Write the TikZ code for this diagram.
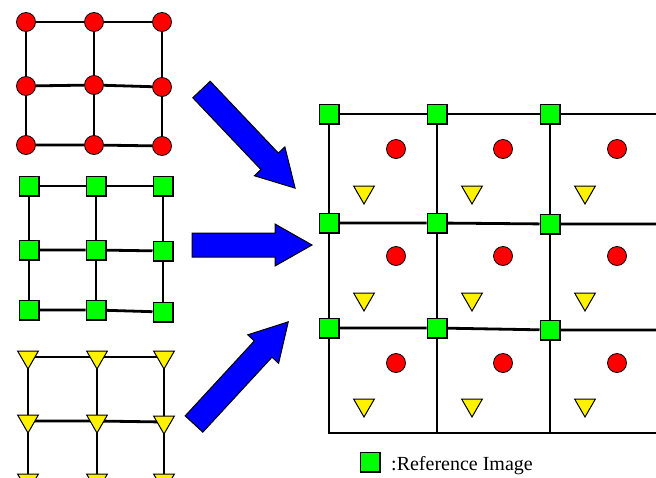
\documentclass[tikz,border=0pt]{standalone}
\usepackage{fontspec}
\setmainfont{Liberation Serif}
\usetikzlibrary{shapes.geometric,backgrounds}

\tikzset{
  gridline/.style={line width=2.8pt, draw=black, line join=miter},
  redpt/.style={circle, fill=red, draw=black, line width=0.8pt,
    minimum size=19pt, inner sep=0pt},
  greenpt/.style={rectangle, fill=green, draw=black, line width=1.5pt,
    minimum size=19.5pt, inner sep=0pt},
  yellowpt/.style={regular polygon, regular polygon sides=3,
    shape border rotate=180, fill=yellow, draw=black, line width=1pt,
    minimum size=24pt, inner sep=0pt},
  fatarrow/.style={fill=blue, draw=black, line width=1pt, line join=miter},
}

% draws a thick block arrow from the local origin along the x axis
\newcommand{\blockarrow}[1]{%
  \filldraw[fatarrow] (0,-12) -- ({#1-37},-12) -- ({#1-37},-21) -- (#1,0)
    -- ({#1-37},21) -- ({#1-37},12) -- (0,12) -- cycle;}

\begin{document}
\begin{tikzpicture}[x=1pt, y=-1pt]
\useasboundingbox (0,0) rectangle (656,477);
\clip (0,0) rectangle (656,477);

% ---- red sample grid ----
\node[redpt] (r11) at (26,22) {};
\node[redpt] (r12) at (94,22) {};
\node[redpt] (r13) at (162,22) {};
\node[redpt] (r21) at (26,86) {};
\node[redpt] (r22) at (94,85) {};
\node[redpt] (r23) at (162,87) {};
\node[redpt] (r31) at (26,145) {};
\node[redpt] (r32) at (94,145) {};
\node[redpt] (r33) at (162,146) {};

% ---- green sample grid ----
\node[greenpt] (g11) at (29,186) {};
\node[greenpt] (g12) at (96,186) {};
\node[greenpt] (g13) at (163,186) {};
\node[greenpt] (g21) at (29,250) {};
\node[greenpt] (g22) at (96,250) {};
\node[greenpt] (g23) at (163,251) {};
\node[greenpt] (g31) at (29,310) {};
\node[greenpt] (g32) at (96,310) {};
\node[greenpt] (g33) at (163,312) {};

% ---- yellow sample grid ----
\node[yellowpt] (y11) at (28,357) {};
\node[yellowpt] (y12) at (97,357) {};
\node[yellowpt] (y13) at (164,357) {};
\node[yellowpt] (y21) at (28,421) {};
\node[yellowpt] (y22) at (97,421) {};
\node[yellowpt] (y23) at (164,422) {};
\node[yellowpt] (y31) at (28,480) {};
\node[yellowpt] (y32) at (97,480) {};
\node[yellowpt] (y33) at (164,480) {};

% ---- combined grid ----
\node[greenpt] (q11) at (329,114) {};
\node[greenpt] (q12) at (437,114) {};
\node[greenpt] (q13) at (550,114) {};
\node[greenpt] (q21) at (329,223) {};
\node[greenpt] (q22) at (437,223) {};
\node[greenpt] (q23) at (550,224) {};
\node[greenpt] (q31) at (329,328) {};
\node[greenpt] (q32) at (437,328) {};
\node[greenpt] (q33) at (550,330) {};
\coordinate (e1) at (660,114);
\coordinate (e2) at (660,224);
\coordinate (e3) at (660,330);
\coordinate (b1) at (329,433);
\coordinate (b2) at (437,433);
\coordinate (b3) at (550,433);
\coordinate (b4) at (660,433);

\foreach \cx/\n in {396/1, 503/2, 617/3} {
  \node[redpt] (cr1\n) at (\cx,149) {};
  \node[redpt] (cr2\n) at (\cx,256) {};
  \node[redpt] (cr3\n) at (\cx,363) {};
}
\foreach \tx/\n in {364/1, 472/2, 585/3} {
  \node[yellowpt] (ty1\n) at (\tx,192) {};
  \node[yellowpt] (ty2\n) at (\tx,299) {};
  \node[yellowpt] (ty3\n) at (\tx,405) {};
}

% ---- legend ----
\node[greenpt] (key) at (370,462) {};
\node[anchor=base west, inner sep=0pt, font=\fontsize{20}{24}\selectfont]
  (keytext) at (391,470) {:Reference Image};

% ---- connecting lines, behind the markers ----
\begin{scope}[on background layer]
  \draw[gridline] (r11) -- (r12) -- (r13);
  \draw[gridline] (r21) -- (r22) -- (r23);
  \draw[gridline] (r31) -- (r32) -- (r33);
  \draw[gridline] (r11) -- (r21) -- (r31);
  \draw[gridline] (r12) -- (r22) -- (r32);
  \draw[gridline] (r13) -- (r23) -- (r33);

  \draw[gridline] (g11) -- (g12) -- (g13);
  \draw[gridline] (g21) -- (g22) -- (g23);
  \draw[gridline] (g31) -- (g32) -- (g33);
  \draw[gridline] (g11) -- (g21) -- (g31);
  \draw[gridline] (g12) -- (g22) -- (g32);
  \draw[gridline] (g13) -- (g23) -- (g33);

  \draw[gridline] (y11.center) -- (y12.center) -- (y13.center);
  \draw[gridline] (y21.center) -- (y22.center) -- (y23.center);
  \draw[gridline] (y11.center) -- (y21.center) -- (y31.center);
  \draw[gridline] (y12.center) -- (y22.center) -- (y32.center);
  \draw[gridline] (y13.center) -- (y23.center) -- (y33.center);

  \draw[gridline] (q11) -- (q12) -- (q13) -- (e1);
  \draw[gridline] (q21) -- (q22) -- (q23) -- (e2);
  \draw[gridline] (q31) -- (q32) -- (q33) -- (e3);
  \draw[gridline] (q11) -- (q21) -- (q31) -- (b1) -- (b4);
  \draw[gridline] (q12) -- (q22) -- (q32) -- (b2);
  \draw[gridline] (q13) -- (q23) -- (q33) -- (b3);
\end{scope}

% ---- block arrows into the combined grid ----
\begin{scope}[shift={(201.5,89.5)}, rotate=-46.5]
  \blockarrow{136}
\end{scope}
\begin{scope}[shift={(192,245)}]
  \blockarrow{120}
\end{scope}
\begin{scope}[shift={(194,424)}, rotate=47.3]
  \blockarrow{139}
\end{scope}
\end{tikzpicture}
\end{document}
